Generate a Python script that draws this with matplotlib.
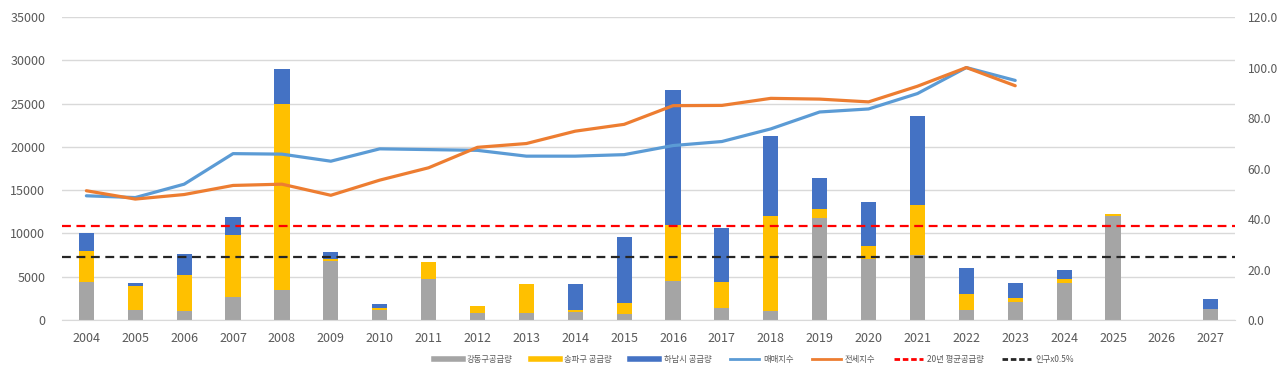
import numpy as np
import matplotlib
matplotlib.use("Agg")
import matplotlib.pyplot as plt
from matplotlib.lines import Line2D

plt.rcParams['font.family'] = ['Noto Sans CJK KR', 'DejaVu Sans']

years = [str(y) for y in range(2004, 2028)]

# supply (left axis)
gangdong = [4400, 1100, 1000, 2700, 3500, 6800, 1100, 4700, 800, 750, 960, 700,
            4500, 1350, 1080, 11800, 7000, 7470, 1190, 2120, 4310, 12000, 0, 1230]
songpa = [3600, 2850, 4200, 7100, 21400, 250, 250, 2050, 800, 3450, 150, 1250,
          6450, 3070, 10900, 1000, 1500, 5780, 1780, 460, 430, 190, 0, 0]
hanam = [2000, 300, 2400, 2100, 4100, 750, 450, 0, 0, 0, 3100, 7600,
         15600, 6240, 9240, 3660, 5090, 10310, 3000, 1730, 1000, 0, 0, 1160]

# index (right axis), 2004-2023
maemae = [49.2, 48.5, 53.8, 65.9, 65.7, 62.9, 67.8, 67.5, 67.2, 64.9, 64.9, 65.5,
          69.1, 70.7, 75.7, 82.4, 83.6, 89.7, 100.0, 94.9]
jeonse = [51.2, 47.9, 49.7, 53.3, 53.8, 49.4, 55.4, 60.3, 68.4, 69.9, 74.8, 77.5,
          84.9, 85.0, 87.8, 87.5, 86.4, 92.6, 100.0, 92.8]

avg20 = 10900
pop_half = 7250

c_gray = "#A5A5A5"
c_yellow = "#FFC000"
c_blue = "#4472C4"
c_line_blue = "#5B9BD5"
c_orange = "#ED7D31"
tick_color = "#595959"

fig = plt.figure(figsize=(12.8, 3.71), dpi=100)
ax = fig.add_axes([0.0484, 0.1375, 0.9166, 0.8165])
ax2 = ax.twinx()

x = np.arange(len(years))
g = np.array(gangdong)
s = np.array(songpa)
h = np.array(hanam)
w = 0.31
ax.bar(x, g, w, color=c_gray, zorder=2)
ax.bar(x, s, w, bottom=g, color=c_yellow, zorder=2)
ax.bar(x, h, w, bottom=g + s, color=c_blue, zorder=2)

ax.axhline(avg20, color="#FF0000", lw=1.6, ls=(0, (4, 2.5)), zorder=3)
ax.axhline(pop_half, color="#262626", lw=1.6, ls=(0, (4, 2.5)), zorder=3)

xl = np.arange(len(maemae))
ax2.plot(xl, maemae, color=c_line_blue, lw=2.3, solid_capstyle="round")
ax2.plot(xl, jeonse, color=c_orange, lw=2.3, solid_capstyle="round")

ax.set_xlim(-0.5, len(years) - 0.5)
ax.set_ylim(0, 35000)
ax.set_yticks(range(0, 35001, 5000))
ax2.set_ylim(0, 120)
ax2.set_yticks(np.arange(0, 121, 20))
ax2.set_yticklabels([f"{v:.1f}" for v in np.arange(0, 121, 20)])
ax.set_xticks(x)
ax.set_xticklabels(years)

ax.yaxis.grid(True, color="#D9D9D9", lw=1)
ax.set_axisbelow(True)
for a in (ax, ax2):
    for sp in a.spines.values():
        sp.set_visible(False)
    a.tick_params(length=0, labelsize=9, colors=tick_color)
ax.tick_params(axis="y", pad=12)
ax.tick_params(axis="x", pad=9)
ax2.tick_params(axis="y", pad=9, labelsize=8.7)
ax.spines["bottom"].set_visible(True)
ax.spines["bottom"].set_color("#D9D9D9")

handles = [
    Line2D([], [], color=c_gray, lw=4),
    Line2D([], [], color=c_yellow, lw=4),
    Line2D([], [], color=c_blue, lw=4),
    Line2D([], [], color=c_line_blue, lw=2),
    Line2D([], [], color=c_orange, lw=2),
    Line2D([], [], color="#FF0000", lw=2, ls=(0, (2, 1))),
    Line2D([], [], color="#262626", lw=2, ls=(0, (2, 1))),
]
labels = ["강동구공급량", "송파구 공급량", "하남시 공급량", "매매지수", "전세지수",
          "20년 평균공급량", "인구x0.5%"]
fig.legend(handles, labels, loc="center", bbox_to_anchor=(0.589, 0.03), ncol=7,
           frameon=False, fontsize=6, labelcolor=tick_color, handlelength=3.5,
           columnspacing=2.2, handletextpad=0.5)

fig.savefig("out.png", dpi=100)
